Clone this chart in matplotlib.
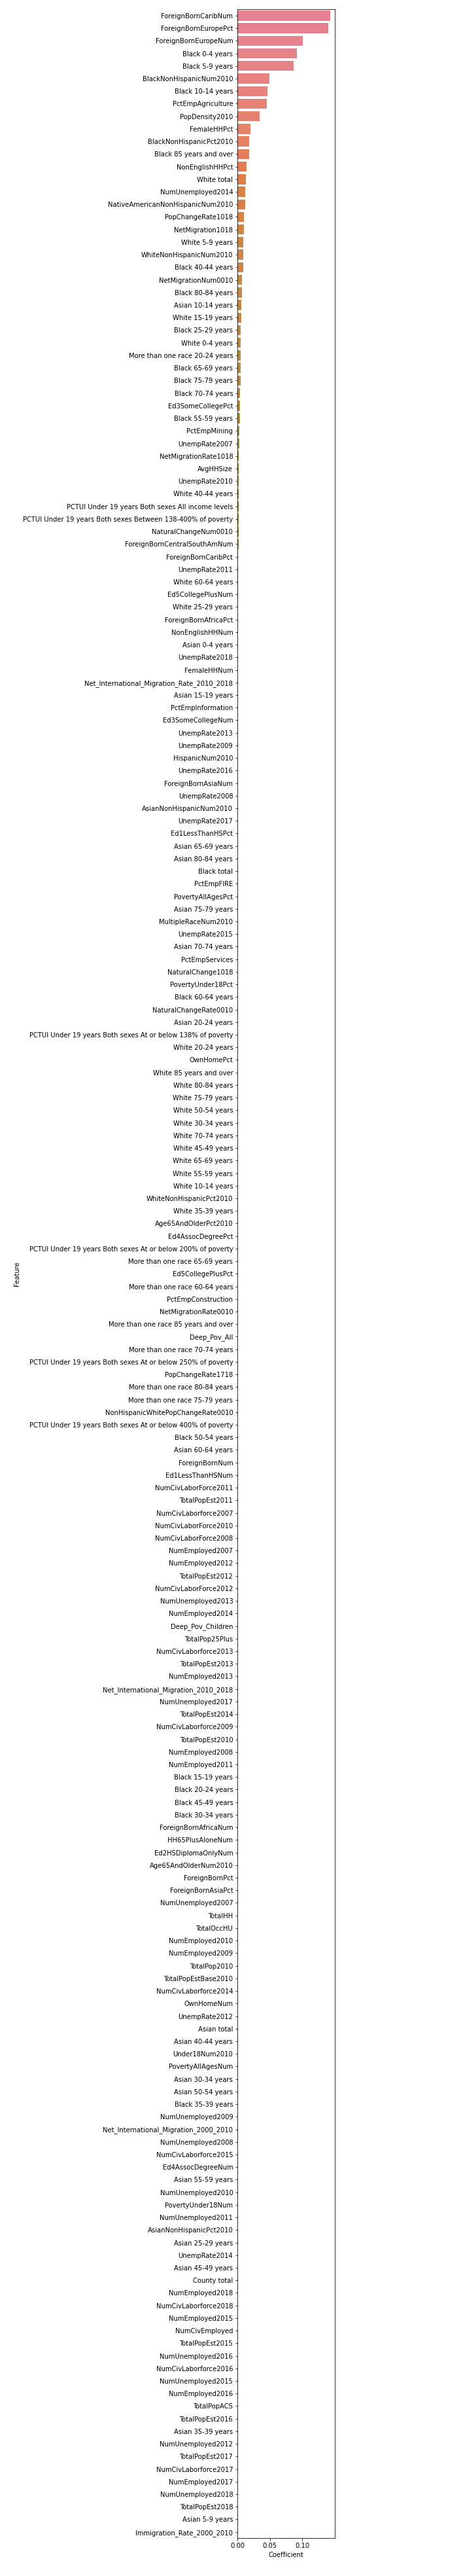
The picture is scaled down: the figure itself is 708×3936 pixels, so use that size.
import matplotlib
matplotlib.use('Agg')
import matplotlib.pyplot as plt
import seaborn as sns

# --- Data: features sorted by coefficient magnitude ---
features = [
    'ForeignBornCaribNum', 'ForeignBornEuropePct', 'ForeignBornEuropeNum',
    'Black 0-4 years', 'Black 5-9 years', 'BlackNonHispanicNum2010',
    'Black 10-14 years', 'PctEmpAgriculture', 'PopDensity2010', 'FemaleHHPct',
    'BlackNonHispanicPct2010', 'Black 85 years and over', 'NonEnglishHHPct',
    'White total', 'NumUnemployed2014', 'NativeAmericanNonHispanicNum2010',
    'PopChangeRate1018', 'NetMigration1018', 'White 5-9 years',
    'WhiteNonHispanicNum2010', 'Black 40-44 years', 'NetMigrationNum0010',
    'Black 80-84 years', 'Asian 10-14 years', 'White 15-19 years',
    'Black 25-29 years', 'White 0-4 years', 'More than one race 20-24 years',
    'Black 65-69 years', 'Black 75-79 years', 'Black 70-74 years',
    'Ed3SomeCollegePct', 'Black 55-59 years', 'PctEmpMining', 'UnempRate2007',
    'NetMigrationRate1018', 'AvgHHSize', 'UnempRate2010', 'White 40-44 years',
    'PCTUI Under 19 years Both sexes All income levels',
    'PCTUI Under 19 years Both sexes Between 138-400% of poverty',
    'NaturalChangeNum0010', 'ForeignBornCentralSouthAmNum',
    'ForeignBornCaribPct', 'UnempRate2011', 'White 60-64 years',
    'Ed5CollegePlusNum', 'White 25-29 years', 'ForeignBornAfricaPct',
    'NonEnglishHHNum', 'Asian 0-4 years', 'UnempRate2018', 'FemaleHHNum',
    'Net_International_Migration_Rate_2010_2018', 'Asian 15-19 years',
    'PctEmpInformation', 'Ed3SomeCollegeNum', 'UnempRate2013',
    'UnempRate2009', 'HispanicNum2010', 'UnempRate2016', 'ForeignBornAsiaNum',
    'UnempRate2008', 'AsianNonHispanicNum2010', 'UnempRate2017',
    'Ed1LessThanHSPct', 'Asian 65-69 years', 'Asian 80-84 years',
    'Black total', 'PctEmpFIRE', 'PovertyAllAgesPct', 'Asian 75-79 years',
    'MultipleRaceNum2010', 'UnempRate2015', 'Asian 70-74 years',
    'PctEmpServices', 'NaturalChange1018', 'PovertyUnder18Pct',
    'Black 60-64 years', 'NaturalChangeRate0010', 'Asian 20-24 years',
    'PCTUI Under 19 years Both sexes At or below 138% of poverty',
    'White 20-24 years', 'OwnHomePct', 'White 85 years and over',
    'White 80-84 years', 'White 75-79 years', 'White 50-54 years',
    'White 30-34 years', 'White 70-74 years', 'White 45-49 years',
    'White 65-69 years', 'White 55-59 years', 'White 10-14 years',
    'WhiteNonHispanicPct2010', 'White 35-39 years', 'Age65AndOlderPct2010',
    'Ed4AssocDegreePct',
    'PCTUI Under 19 years Both sexes At or below 200% of poverty',
    'More than one race 65-69 years', 'Ed5CollegePlusPct',
    'More than one race 60-64 years', 'PctEmpConstruction',
    'NetMigrationRate0010', 'More than one race 85 years and over',
    'Deep_Pov_All', 'More than one race 70-74 years',
    'PCTUI Under 19 years Both sexes At or below 250% of poverty',
    'PopChangeRate1718', 'More than one race 80-84 years',
    'More than one race 75-79 years', 'NonHispanicWhitePopChangeRate0010',
    'PCTUI Under 19 years Both sexes At or below 400% of poverty',
    'Black 50-54 years', 'Asian 60-64 years', 'ForeignBornNum',
    'Ed1LessThanHSNum', 'NumCivLaborForce2011', 'TotalPopEst2011',
    'NumCivLaborforce2007', 'NumCivLaborForce2010', 'NumCivLaborForce2008',
    'NumEmployed2007', 'NumEmployed2012', 'TotalPopEst2012',
    'NumCivLaborForce2012', 'NumUnemployed2013', 'NumEmployed2014',
    'Deep_Pov_Children', 'TotalPop25Plus', 'NumCivLaborforce2013',
    'TotalPopEst2013', 'NumEmployed2013',
    'Net_International_Migration_2010_2018', 'NumUnemployed2017',
    'TotalPopEst2014', 'NumCivLaborforce2009', 'TotalPopEst2010',
    'NumEmployed2008', 'NumEmployed2011', 'Black 15-19 years',
    'Black 20-24 years', 'Black 45-49 years', 'Black 30-34 years',
    'ForeignBornAfricaNum', 'HH65PlusAloneNum', 'Ed2HSDiplomaOnlyNum',
    'Age65AndOlderNum2010', 'ForeignBornPct', 'ForeignBornAsiaPct',
    'NumUnemployed2007', 'TotalHH', 'TotalOccHU', 'NumEmployed2010',
    'NumEmployed2009', 'TotalPop2010', 'TotalPopEstBase2010',
    'NumCivLaborforce2014', 'OwnHomeNum', 'UnempRate2012', 'Asian total',
    'Asian 40-44 years', 'Under18Num2010', 'PovertyAllAgesNum',
    'Asian 30-34 years', 'Asian 50-54 years', 'Black 35-39 years',
    'NumUnemployed2009', 'Net_International_Migration_2000_2010',
    'NumUnemployed2008', 'NumCivLaborforce2015', 'Ed4AssocDegreeNum',
    'Asian 55-59 years', 'NumUnemployed2010', 'PovertyUnder18Num',
    'NumUnemployed2011', 'AsianNonHispanicPct2010', 'Asian 25-29 years',
    'UnempRate2014', 'Asian 45-49 years', 'County total', 'NumEmployed2018',
    'NumCivLaborforce2018', 'NumEmployed2015', 'NumCivEmployed',
    'TotalPopEst2015', 'NumUnemployed2016', 'NumCivLaborforce2016',
    'NumUnemployed2015', 'NumEmployed2016', 'TotalPopACS', 'TotalPopEst2016',
    'Asian 35-39 years', 'NumUnemployed2012', 'TotalPopEst2017',
    'NumCivLaborforce2017', 'NumEmployed2017', 'NumUnemployed2018',
    'TotalPopEst2018', 'Asian 5-9 years', 'Immigration_Rate_2000_2010',
]

coefficients = [
    0.1427, 0.1397, 0.1008, 0.0917, 0.0866, 0.0491, 0.0460, 0.0447, 0.0342, 0.0197,
    0.0183, 0.0176, 0.0139, 0.0129, 0.0122, 0.0120, 0.0101, 0.0100, 0.0091, 0.0090,
    0.0089, 0.0071, 0.0070, 0.0055, 0.0054, 0.0048, 0.0047, 0.0046, 0.0045, 0.0044,
    0.0035, 0.0034, 0.0033, 0.0024, 0.0023, 0.0022, 0.0021, 0.0020, 0.0017, 0.0016,
    0.0015, 0.0015, 0.0014, 0.0010, 0.0010, 0.0009, 0.0003, 0.0002, 0.0002, 0.0001,
    0.0001, 0.0001, 0.0, 0.0, 0.0, 0.0, 0.0, 0.0, 0.0, 0.0,
    0.0, 0.0, 0.0, 0.0, 0.0, 0.0, 0.0, 0.0, 0.0, 0.0,
    0.0, 0.0, 0.0, 0.0, 0.0, 0.0, 0.0, 0.0, 0.0, 0.0,
    0.0, 0.0, 0.0, 0.0, 0.0, 0.0, 0.0, 0.0, 0.0, 0.0,
    0.0, 0.0, 0.0, 0.0, 0.0, 0.0, 0.0, 0.0, 0.0, 0.0,
    0.0, 0.0, 0.0, 0.0, 0.0, 0.0, 0.0, 0.0, 0.0, 0.0,
    0.0, 0.0, 0.0, 0.0, 0.0, 0.0, 0.0, 0.0, 0.0, 0.0,
    0.0, 0.0, 0.0, 0.0, 0.0, 0.0, 0.0, 0.0, 0.0, 0.0,
    0.0, 0.0, 0.0, 0.0, 0.0, 0.0, 0.0, 0.0, 0.0, 0.0,
    0.0, 0.0, 0.0, 0.0, 0.0, 0.0, 0.0, 0.0, 0.0, 0.0,
    0.0, 0.0, 0.0, 0.0, 0.0, 0.0, 0.0, 0.0, 0.0, 0.0,
    0.0, 0.0, 0.0, 0.0, 0.0, 0.0, 0.0, 0.0, 0.0, 0.0,
    0.0, 0.0, 0.0, 0.0, 0.0, 0.0, 0.0, 0.0, 0.0, 0.0,
    0.0, 0.0, 0.0, 0.0, 0.0, 0.0, 0.0, 0.0, 0.0, 0.0,
    0.0, 0.0, 0.0, 0.0, 0.0, 0.0, 0.0, 0.0, 0.0, 0.0,
    0.0,
]

DPI = 72
fig, ax = plt.subplots(figsize=(708 / DPI, 3936 / DPI), dpi=DPI)
fig.subplots_adjust(left=0.5131, right=0.7227, top=0.99637, bottom=0.01466)

sns.barplot(x=coefficients, y=features, hue=features, order=features,
            hue_order=features, palette='husl', legend=False, dodge=False, ax=ax)
ax.set_xlabel('Coefficient')
ax.set_ylabel('Feature')

fig.savefig('out.png', dpi=DPI)
